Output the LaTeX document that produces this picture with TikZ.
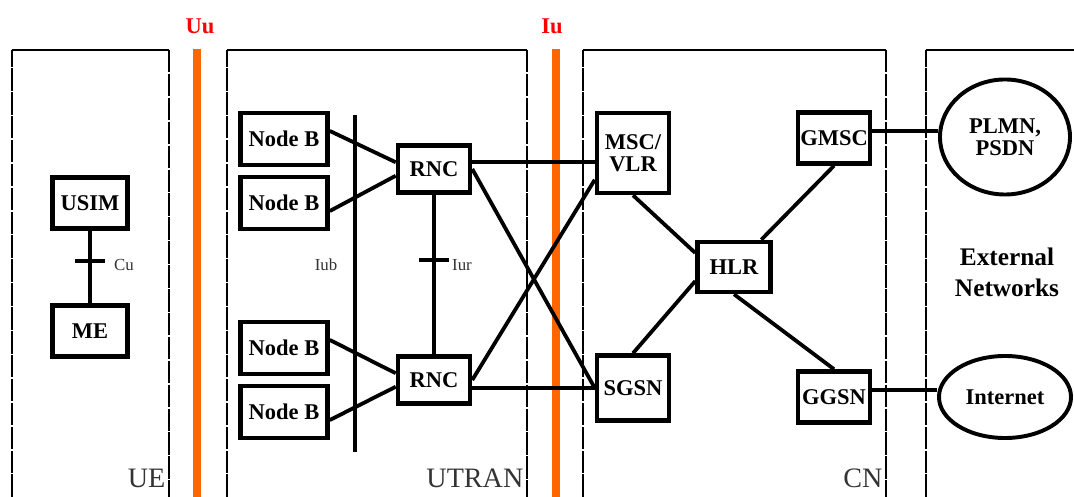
\documentclass[tikz,border=0pt]{standalone}
\usepackage{fontspec}
\setmainfont{Liberation Serif}
\usepackage{tikz}
\usetikzlibrary{shapes.geometric}
\usepackage{xcolor}
\definecolor{umtsIface}{HTML}{FF6600}
\definecolor{umtsRef}{HTML}{FF0000}
\definecolor{umtsText}{HTML}{333333}
\tikzset{
    element/.style={rectangle,draw,line width=3.2pt,fill=white,inner sep=0pt,
        font=\fontsize{16}{16}\selectfont\bfseries,align=center},
    network/.style={ellipse,draw,line width=2.8pt,fill=white,inner sep=0pt,
        font=\fontsize{16}{16}\selectfont\bfseries,align=center},
    link/.style={line width=2.7pt},
    busbar/.style={line width=3.2pt},
    domainedge/.style={line width=1.4pt,dash pattern=on 16pt off 1pt},
    domaintop/.style={line width=1.4pt},
    iface/.style={line width=5pt,umtsIface},
    ifacelabel/.style={font=\fontsize{16}{16}\selectfont\bfseries,text=umtsRef},
    domainlabel/.style={font=\fontsize{20}{20}\selectfont,text=umtsText,anchor=base east,inner sep=1pt},
    reflabel/.style={font=\fontsize{12}{12}\selectfont,text=umtsText}
}

\begin{document}
\begin{tikzpicture}[x=0.025cm,y=-0.025cm]
    \useasboundingbox (0,0) rectangle (1074,497);

    % Domains
    \draw[domainedge] (12,497) -- (12,50);
    \draw[domainedge] (169,50) -- (169,497);
    \draw[domaintop] (12,50) -- (169,50);
    \draw[domainedge] (227,497) -- (227,50);
    \draw[domainedge] (527,50) -- (527,497);
    \draw[domaintop] (227,50) -- (527,50);
    \draw[domainedge] (583,497) -- (583,50);
    \draw[domainedge] (886,50) -- (886,497);
    \draw[domaintop] (583,50) -- (886,50);
    \draw[domainedge] (926,497) -- (926,50);
    \draw[domaintop] (926,50) -- (1074,50);

    % Interfaces Uu and Iu
    \draw[iface] (197,49) -- (197,497);
    \draw[iface] (556,49) -- (556,497);
    \node[ifacelabel] (uu) at (200,26) {Uu};
    \node[ifacelabel] (iu) at (552,26) {Iu};

    % UE
    \node[element,minimum width=1.875cm,minimum height=1.275cm] (usim) at (90,203) {USIM};
    \node[element,minimum width=1.875cm,minimum height=1.275cm] (me) at (90,331) {ME};
    \draw[link] (usim) -- (me);
    \draw[link] (75,261) -- (105,261);
    \node[reflabel] (cu) at (124,265) {Cu};

    % UTRAN
    \node[element,minimum width=2.175cm,minimum height=1.3cm] (nb1) at (284,139) {Node B};
    \node[element,minimum width=2.175cm,minimum height=1.3cm] (nb2) at (284,203) {Node B};
    \node[element,minimum width=2.175cm,minimum height=1.3cm] (nb3) at (284,348) {Node B};
    \node[element,minimum width=2.175cm,minimum height=1.3cm] (nb4) at (284,412) {Node B};
    \node[element,minimum width=1.8cm,minimum height=1.175cm] (rnc1) at (434,169) {RNC};
    \node[element,minimum width=1.8cm,minimum height=1.175cm] (rnc2) at (434,380) {RNC};
    \draw[busbar] (355,115) -- (355,452);
    \node[reflabel] (iub) at (326,265) {Iub};
    \draw[link] (nb1.10) -- (rnc1.170);
    \draw[link] (nb2.-10) -- (rnc1.190);
    \draw[link] (nb3.10) -- (rnc2.170);
    \draw[link] (nb4.-10) -- (rnc2.190);
    \draw[busbar] (rnc1) -- (rnc2);
    \draw[link] (419,260) -- (449,260);
    \node[reflabel] (iur) at (462,265) {Iur};

    % CN
    \node[element,minimum width=1.8cm,minimum height=2.0cm] (msc) at (633,153) {MSC/\\VLR};
    \node[element,minimum width=1.8cm,minimum height=1.625cm] (sgsn) at (633,388) {SGSN};
    \node[element,minimum width=1.825cm,minimum height=1.25cm] (hlr) at (734,267) {HLR};
    \node[element,minimum width=1.8cm,minimum height=1.275cm] (gmsc) at (834,138) {GMSC};
    \node[element,minimum width=1.8cm,minimum height=1.275cm] (ggsn) at (834,397) {GGSN};
    \draw[link] (rnc1.10) -- (rnc1.10 -| msc.west);
    \draw[link] (rnc1.east) -- (sgsn.west);
    \draw[link] (rnc2.east) -- (msc.215);
    \draw[link] (sgsn.west) -- (sgsn.west -| rnc2.east);
    \draw[link] (msc.south) -- (hlr.160);
    \draw[link] (sgsn.north) -- (hlr.200);
    \draw[link] (hlr.45) -- (gmsc.south);
    \draw[link] (hlr.south) -- (ggsn.north);

    % External networks
    \node[network,minimum width=3.25cm,minimum height=2.875cm] (plmn) at (1005,137) {PLMN,\\PSDN};
    \node[network,minimum width=3.3cm,minimum height=2.05cm] (internet) at (1005,397) {Internet};
    \node[font=\fontsize{18}{22}\selectfont\bfseries,align=center] (ext) at (1007,272) {External\\Networks};
    \draw[link] (gmsc.10) -- (plmn.west |- gmsc.10);
    \draw[link] (ggsn.10) -- (internet.west |- ggsn.10);

    % Domain labels
    \node[domainlabel] (ue) at (167,488) {UE};
    \node[domainlabel] (utran) at (525,488) {UTRAN};
    \node[domainlabel] (cn) at (884,488) {CN};
\end{tikzpicture}
\end{document}
